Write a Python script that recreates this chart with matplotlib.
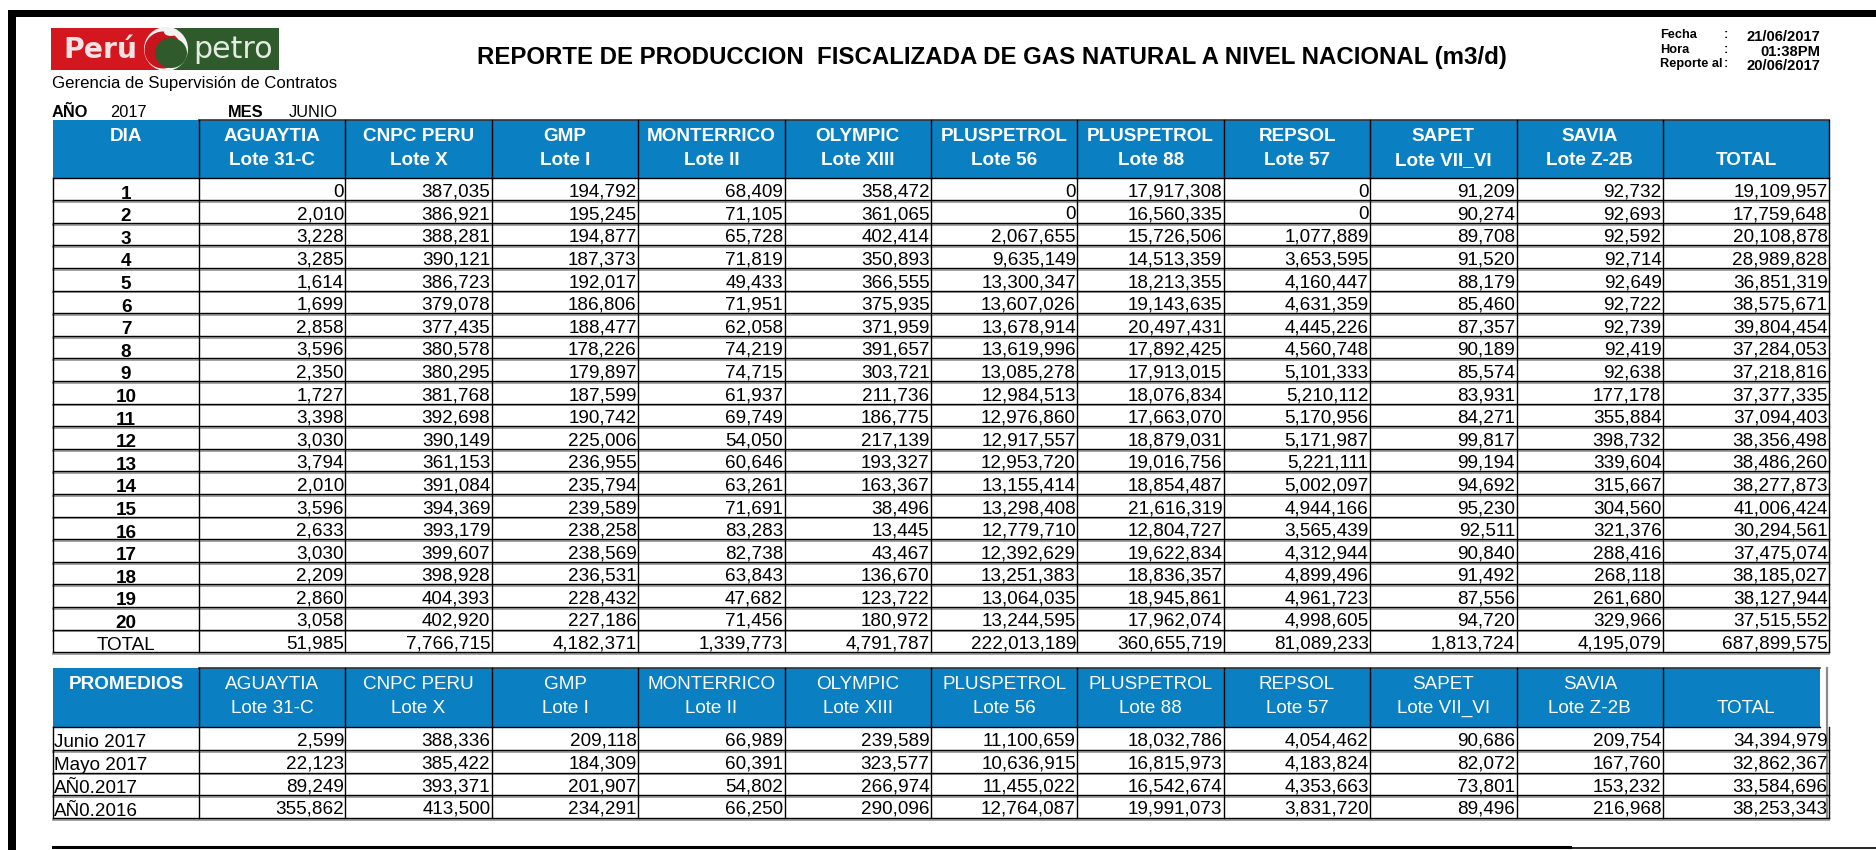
import matplotlib
matplotlib.use('Agg')
import matplotlib.pyplot as plt
from matplotlib.patches import Rectangle, Circle, Ellipse

W, H = 1876, 850
DPI = 100

companies = ['AGUAYTIA', 'CNPC PERU', 'GMP', 'MONTERRICO', 'OLYMPIC',
             'PLUSPETROL', 'PLUSPETROL', 'REPSOL', 'SAPET', 'SAVIA']
lotes = ['Lote 31-C', 'Lote X', 'Lote I', 'Lote II', 'Lote XIII',
         'Lote 56', 'Lote 88', 'Lote 57', 'Lote VII_VI', 'Lote Z-2B']
dias = list(range(1, 21))

aguaytia = [0, 2010, 3228, 3285, 1614, 1699, 2858, 3596, 2350, 1727,
            3398, 3030, 3794, 2010, 3596, 2633, 3030, 2209, 2860, 3058]
cnpc = [387035, 386921, 388281, 390121, 386723, 379078, 377435, 380578, 380295, 381768,
        392698, 390149, 361153, 391084, 394369, 393179, 399607, 398928, 404393, 402920]
gmp = [194792, 195245, 194877, 187373, 192017, 186806, 188477, 178226, 179897, 187599,
       190742, 225006, 236955, 235794, 239589, 238258, 238569, 236531, 228432, 227186]
monterrico = [68409, 71105, 65728, 71819, 49433, 71951, 62058, 74219, 74715, 61937,
              69749, 54050, 60646, 63261, 71691, 83283, 82738, 63843, 47682, 71456]
olympic = [358472, 361065, 402414, 350893, 366555, 375935, 371959, 391657, 303721, 211736,
           186775, 217139, 193327, 163367, 38496, 13445, 43467, 136670, 123722, 180972]
plus56 = [0, 0, 2067655, 9635149, 13300347, 13607026, 13678914, 13619996, 13085278, 12984513,
          12976860, 12917557, 12953720, 13155414, 13298408, 12779710, 12392629, 13251383,
          13064035, 13244595]
plus88 = [17917308, 16560335, 15726506, 14513359, 18213355, 19143635, 20497431, 17892425,
          17913015, 18076834, 17663070, 18879031, 19016756, 18854487, 21616319, 12804727,
          19622834, 18836357, 18945861, 17962074]
repsol = [0, 0, 1077889, 3653595, 4160447, 4631359, 4445226, 4560748, 5101333, 5210112,
          5170956, 5171987, 5221111, 5002097, 4944166, 3565439, 4312944, 4899496, 4961723,
          4998605]
sapet = [91209, 90274, 89708, 91520, 88179, 85460, 87357, 90189, 85574, 83931,
         84271, 99817, 99194, 94692, 95230, 92511, 90840, 91492, 87556, 94720]
savia = [92732, 92693, 92592, 92714, 92649, 92722, 92739, 92419, 92638, 177178,
         355884, 398732, 339604, 315667, 304560, 321376, 288416, 268118, 261680, 329966]
total_dia = [19109957, 17759648, 20108878, 28989828, 36851319, 38575671, 39804454, 37284053,
             37218816, 37377335, 37094403, 38356498, 38486260, 38277873, 41006424, 30294561,
             37475074, 38185027, 38127944, 37515552]
total_mes = [51985, 7766715, 4182371, 1339773, 4791787, 222013189, 360655719,
             81089233, 1813724, 4195079, 687899575]

prom_labels = ['Junio 2017', 'Mayo 2017', 'AÑ0.2017', 'AÑ0.2016']
prom_junio = [2599, 388336, 209118, 66989, 239589, 11100659, 18032786, 4054462, 90686, 209754, 34394979]
prom_mayo = [22123, 385422, 184309, 60391, 323577, 10636915, 16815973, 4183824, 82072, 167760, 32862367]
prom_2017 = [89249, 393371, 201907, 54802, 266974, 11455022, 16542674, 4353663, 73801, 153232, 33584696]
prom_2016 = [355862, 413500, 234291, 66250, 290096, 12764087, 19991073, 3831720, 89496, 216968, 38253343]

titulo = 'REPORTE DE PRODUCCION  FISCALIZADA DE GAS NATURAL A NIVEL NACIONAL (m3/d)'
info_labels = ['Fecha', 'Hora', 'Reporte al']
info_values = ['21/06/2017', '01:38PM', '20/06/2017']
anio, mes = '2017', 'JUNIO'

columns = [aguaytia, cnpc, gmp, monterrico, olympic, plus56, plus88, repsol, sapet, savia, total_dia]
promedios = [prom_junio, prom_mayo, prom_2017, prom_2016]

# ---------------- styling ----------------
BLUE = '#0a7fc1'
plt.rcParams['font.family'] = ['Liberation Sans', 'DejaVu Sans']
FS = 13.6

fig = plt.figure(figsize=(W / DPI, H / DPI), dpi=DPI)
ax = fig.add_axes([0, 0, 1, 1])
ax.set_xlim(0, W)
ax.set_ylim(H, 0)
ax.axis('off')
renderer = fig.canvas.get_renderer()


def fit(t, width):
    bb = t.get_window_extent(renderer)
    t.set_fontsize(t.get_fontsize() * width / bb.width)
    return t


def fmt(v):
    return f'{v:,}'


# page frame
ax.add_patch(Rectangle((8, 10), W - 8, 7, color='black', lw=0))
ax.add_patch(Rectangle((8, 10), 8, H - 10, color='black', lw=0))
ax.plot([53, 1570], [847, 847], color='black', lw=2.2)
ax.plot([1570, W], [847.5, 847.5], color='black', lw=1.2)

# logo
ax.add_patch(Rectangle((51, 28), 119, 42, color='#d4161f', lw=0))
ax.add_patch(Rectangle((170, 28), 109, 42, color='#2f5a2c', lw=0))
ax.add_patch(Circle((166, 49), 22, color='#f2f2f2', lw=0))
ax.add_patch(Circle((163, 50), 18.5, color='#c8141d', lw=0))
ax.add_patch(Ellipse((171, 53), 32, 30, color='#2f5a2c', lw=0))
ax.add_patch(Ellipse((171, 32), 14, 8, color='#f2f2f2', lw=0))
t = ax.text(63, 58, 'Perú', color='#f6e2e2', fontsize=20, fontweight='bold',
            family=['DejaVu Sans'], ha='left', va='baseline')
fit(t, 74)
t = ax.text(193, 58, 'petro', color='#e4ece2', fontsize=20,
            family=['DejaVu Sans'], ha='left', va='baseline')
fit(t, 79)
t = ax.text(52, 88, 'Gerencia de Supervisión de Contratos', fontsize=10, ha='left', va='baseline')
fit(t, 285)

ax.text(52, 117, 'AÑO', fontsize=11.8, fontweight='bold', ha='left', va='baseline')
ax.text(110, 117, anio, fontsize=11.8, ha='left', va='baseline')
ax.text(228, 117, 'MES', fontsize=11.8, fontweight='bold', ha='left', va='baseline')
ax.text(289, 117, mes, fontsize=11.8, ha='left', va='baseline')

t = ax.text(477, 64, titulo, fontsize=16, fontweight='bold', ha='left', va='baseline')
fit(t, 1028)

for i, (lab, val) in enumerate(zip(info_labels, info_values)):
    y = 38 + i * 14.5
    ax.text(1660, y, lab, fontsize=9.2, fontweight='bold', ha='left', va='baseline')
    ax.text(1724, y, ':', fontsize=9.2, fontweight='bold', ha='left', va='baseline')
    ax.text(1820, y + 3, val, fontsize=10.6, fontweight='bold', ha='right', va='baseline')

# column grid
widths = [146] + [146.4] * 10 + [166]
edges = [53]
for w in widths:
    edges.append(edges[-1] + w)
LINE = 1.0
SHADOW = '#9c9c9c'


def header(top, bottom, first, bold, right_edge, total_black):
    ax.add_patch(Rectangle((edges[0], top), right_edge - edges[0], bottom - top, color=BLUE, lw=0))
    ax.plot([edges[1], right_edge], [top, top], color='#333333', lw=1.2)
    for x in edges[1:-1]:
        ax.plot([x, x], [top, bottom], color='black', lw=LINE)
    if total_black:
        ax.plot([edges[-1], edges[-1]], [top, bottom], color='black', lw=LINE)
    ax.plot([edges[0], right_edge], [bottom, bottom], color='black', lw=LINE)
    l1, l2 = top + 21, top + 45
    w = 'bold' if bold else 'normal'
    ax.text((edges[0] + edges[1]) / 2, l1, first, color='white', fontsize=FS,
            fontweight='bold', ha='center', va='baseline')
    for k, (c, l) in enumerate(zip(companies, lotes)):
        xc = (edges[k + 1] + edges[k + 2]) / 2
        ax.text(xc, l1, c, color='white', fontsize=FS, fontweight=w, ha='center', va='baseline')
        ax.text(xc, l2, l, color='white', fontsize=FS, fontweight=w, ha='center', va='baseline')
    ax.text((edges[-2] + edges[-1]) / 2, l2, 'TOTAL', color='white', fontsize=FS,
            fontweight=w, ha='center', va='baseline')


def grid(top, row_h, n):
    ys = [top + i * row_h for i in range(n + 1)]
    for y in ys[1:]:
        ax.plot([edges[0], edges[-1]], [y + 1.8, y + 1.8], color=SHADOW, lw=1.3)
        ax.plot([edges[0], edges[-1]], [y, y], color='black', lw=LINE)
    for x in edges:
        ax.plot([x, x], [top, ys[-1]], color='black', lw=LINE)
    return ys


# main table
header(120, 177.5, 'DIA', True, edges[-1], True)
ROW = 22.6
ys = grid(177.5, ROW, 21)
for r, d in enumerate(dias):
    yb = ys[r + 1] - 1.5
    ax.text((edges[0] + edges[1]) / 2, yb, str(d), fontsize=FS, fontweight='bold',
            ha='center', va='baseline')
    for k, col in enumerate(columns):
        ax.text(edges[k + 2] - 1.5, yb - 2, fmt(col[r]), fontsize=FS, ha='right', va='baseline')
yb = ys[21] - 2.5
ax.text((edges[0] + edges[1]) / 2, yb, 'TOTAL', fontsize=FS, ha='center', va='baseline')
for k, v in enumerate(total_mes):
    ax.text(edges[k + 2] - 1.5, yb - 1.5, fmt(v), fontsize=FS, ha='right', va='baseline')

# promedios table
header(668, 727, 'PROMEDIOS', False, 1820, False)
ax.plot([1827, 1827], [668, 818], color='#8a8a8a', lw=1.6)
ys = grid(727, 22.75, 4)
for r, (lab, vals) in enumerate(zip(prom_labels, promedios)):
    yb = ys[r + 1] - 4
    ax.text(edges[0] + 0.5, yb + 1.5, lab, fontsize=FS, ha='left', va='baseline')
    for k, v in enumerate(vals):
        ax.text(edges[k + 2] - 1.5, yb, fmt(v), fontsize=FS, ha='right', va='baseline')

fig.savefig('out.png', dpi=DPI)
